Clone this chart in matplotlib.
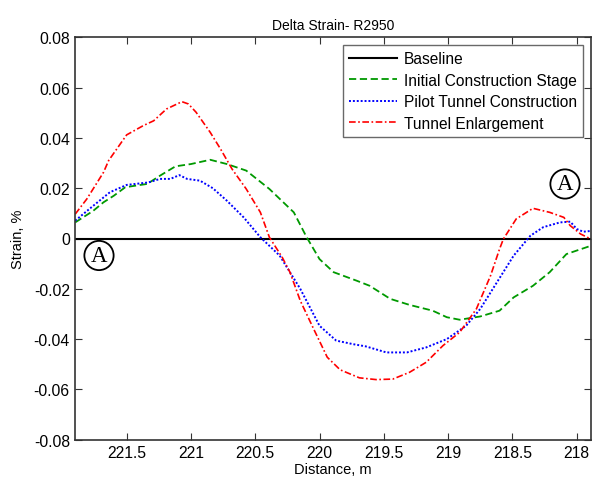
import matplotlib
matplotlib.use("Agg")
import matplotlib.pyplot as plt
import numpy as np

plt.rcParams['font.family'] = ['Liberation Sans', 'DejaVu Sans']

# Initial Construction Stage
x_init = [221.90, 221.76, 221.68, 221.60, 221.51, 221.34, 221.24, 221.12, 221.00, 220.85,
          220.72, 220.57, 220.39, 220.20, 220.10, 220.00, 219.89, 219.71, 219.61, 219.45,
          219.30, 219.12, 219.01, 218.91, 218.75, 218.60, 218.49, 218.34, 218.21, 218.08,
          218.00, 217.89]
y_init = [0.0064, 0.0110, 0.0144, 0.0170, 0.0204, 0.0217, 0.0250, 0.0287, 0.0296, 0.0313,
          0.0296, 0.0270, 0.0197, 0.0104, 0.0005, -0.0082, -0.0134, -0.0168, -0.0188, -0.0240,
          -0.0264, -0.0287, -0.0313, -0.0323, -0.0310, -0.0287, -0.0234, -0.0188, -0.0134, -0.0062,
          -0.0048, -0.0029]

# Pilot Tunnel Construction
x_pilot = [221.90, 221.76, 221.63, 221.50, 221.33, 221.24, 221.16, 221.09, 221.03, 220.93,
           220.83, 220.72, 220.59, 220.46, 220.31, 220.15, 220.00, 219.87, 219.74, 219.64,
           219.48, 219.32, 219.17, 219.01, 218.86, 218.75, 218.62, 218.49, 218.36, 218.26,
           218.13, 218.05, 218.00, 217.95, 217.89]
y_pilot = [0.0071, 0.0130, 0.0184, 0.0213, 0.0223, 0.0237, 0.0237, 0.0252, 0.0237, 0.0230,
           0.0200, 0.0150, 0.0084, 0.0005, -0.0068, -0.0200, -0.0347, -0.0406, -0.0420, -0.0429,
           -0.0453, -0.0453, -0.0433, -0.0400, -0.0347, -0.0280, -0.0174, -0.0068, 0.0011, 0.0045,
           0.0064, 0.0067, 0.0038, 0.0027, 0.0030]

# Tunnel Enlargement
x_enl = [221.90, 221.81, 221.68, 221.64, 221.50, 221.37, 221.29, 221.19, 221.07, 221.02,
         220.96, 220.85, 220.77, 220.68, 220.57, 220.46, 220.39, 220.29, 220.23, 220.15,
         220.05, 219.94, 219.84, 219.69, 219.56, 219.43, 219.30, 219.17, 219.04, 218.91,
         218.78, 218.67, 218.60, 218.57, 218.47, 218.34, 218.21, 218.10, 218.05, 217.97,
         217.89]
y_enl = [0.0097, 0.0157, 0.0263, 0.0310, 0.0412, 0.0449, 0.0468, 0.0515, 0.0544, 0.0535,
         0.0502, 0.0422, 0.0356, 0.0276, 0.0197, 0.0104, 0.0005, -0.0075, -0.0134, -0.0247,
         -0.0355, -0.0472, -0.0522, -0.0554, -0.0561, -0.0559, -0.0532, -0.0492, -0.0426, -0.0373,
         -0.0280, -0.0148, -0.0042, -0.0002, 0.0078, 0.0120, 0.0104, 0.0084, 0.0051, 0.0018,
         -0.0002]

x_ticks = [221.5, 221, 220.5, 220, 219.5, 219, 218.5, 218]
x_ticklabels = ["221.5", "221", "220.5", "220", "219.5", "219", "218.5", "218"]
y_ticks = [-0.08, -0.06, -0.04, -0.02, 0, 0.02, 0.04, 0.06, 0.08]
y_ticklabels = ["-0.08", "-0.06", "-0.04", "-0.02", "0", "0.02", "0.04", "0.06", "0.08"]

fig = plt.figure(figsize=(5.92, 4.81), dpi=100)
ax = fig.add_axes([74.7/592, 1 - 440.7/481, (590.7-74.7)/592, (440.7-38.3)/481])

ax.axhline(0, color="black", lw=1.5, label="Baseline")
ax.plot(x_init, y_init, color="#009900", ls=(0, (4, 2)), lw=1.3, label="Initial Construction Stage")
ax.plot(x_pilot, y_pilot, color="blue", ls=(0, (1, 1)), lw=1.4, label="Pilot Tunnel Construction")
ax.plot(x_enl, y_enl, color="red", ls=(0, (4, 1.5, 1, 1.5)), lw=1.2, label="Tunnel Enlargement")

ax.set_xlim(221.904, 217.891)
ax.set_ylim(-0.08, 0.08)
ax.set_xticks(x_ticks)
ax.set_xticklabels(x_ticklabels)
ax.set_yticks(y_ticks)
ax.set_yticklabels(y_ticklabels)
ax.tick_params(direction="in", top=True, right=True, labelsize=11.3, length=5, color="#333333")
for s in ax.spines.values():
    s.set_color("#333333")
    s.set_linewidth(1.2)

ax.set_title("Delta Strain- R2950", fontsize=10, pad=6)
ax.set_xlabel("Distance, m", fontsize=10.5, labelpad=2)
ax.set_ylabel("Strain, %", fontsize=10.5, labelpad=6)

leg = ax.legend(loc="upper right", fontsize=11.2, frameon=True, fancybox=False,
                edgecolor="#444444", borderpad=0.4, labelspacing=0.42,
                handlelength=3.1, handletextpad=0.4, borderaxespad=0.5)
leg.get_frame().set_linewidth(1.0)

circ = dict(boxstyle="circle,pad=0.18", fc="white", ec="black", lw=1.3)
ax.annotate("A", xy=(99/592, 1 - 256.5/481), xycoords="figure fraction", ha="center", va="center",
            fontsize=16.5, family="Liberation Serif", bbox=circ)
ax.annotate("A", xy=(565/592, 1 - 185/481), xycoords="figure fraction", ha="center", va="center",
            fontsize=16.5, family="Liberation Serif", bbox=circ)

fig.savefig("out.png", dpi=100)
